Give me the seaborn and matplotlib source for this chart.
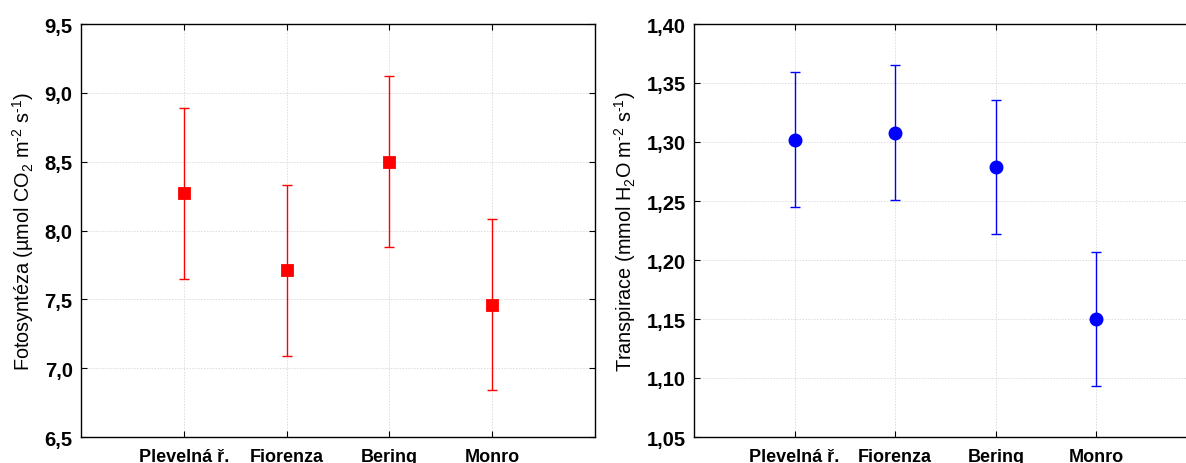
import numpy as np
import pandas as pd
import matplotlib
matplotlib.use("Agg")
import matplotlib.pyplot as plt
import seaborn as sns
from matplotlib.ticker import FuncFormatter, MultipleLocator

categories = ["Plevelná ř.", "Fiorenza", "Bering", "Monro"]
photo_mean = [8.27, 7.71, 8.50, 7.46]
photo_err = [0.62, 0.62, 0.62, 0.62]
transp_mean = [1.302, 1.308, 1.279, 1.150]
transp_err = [0.057, 0.057, 0.057, 0.057]

sns.set_theme(style="white")
plt.rcParams['font.family'] = ['Liberation Sans', 'DejaVu Sans']
plt.rcParams['mathtext.fontset'] = 'custom'
plt.rcParams['mathtext.rm'] = 'Liberation Sans'
plt.rcParams['mathtext.it'] = 'Liberation Sans'
plt.rcParams['mathtext.default'] = 'regular'
plt.rcParams['text.color'] = 'black'
plt.rcParams['axes.labelcolor'] = 'black'

W, H = 1186, 464
fig = plt.figure(figsize=(W / 100, H / 100), dpi=100)
ax1 = fig.add_axes([81 / W, 1 - 438 / H, (595 - 81) / W, (438 - 25) / H])
ax2 = fig.add_axes([694 / W, 1 - 438 / H, (1197 - 694) / W, (438 - 25) / H])

def panel(ax, means, errs, color, marker, msize, ylim, step, fmt, ylabel):
    df = pd.DataFrame({"cat": categories, "val": means})
    sns.pointplot(data=df, x="cat", y="val", ax=ax, linestyle="none",
                  marker=marker, color=color, errorbar=None,
                  markersize=msize, zorder=4)
    ax.errorbar(np.arange(len(categories)), means, yerr=errs, fmt="none",
                ecolor=color, elinewidth=1.0, capsize=3.6, capthick=1.0, zorder=3)
    ax.set_xlim(-1, 4)
    ax.set_ylim(*ylim)
    ax.yaxis.set_major_locator(MultipleLocator(step))
    ax.yaxis.set_major_formatter(FuncFormatter(lambda v, p: fmt.format(v).replace('.', ',')))
    ax.grid(True, color="#dcdcdc", linestyle=(0, (1.5, 1.5)), linewidth=0.7)
    ax.set_axisbelow(True)
    for s in ax.spines.values():
        s.set_visible(True)
        s.set_color("black")
        s.set_linewidth(1.0)
    ax.tick_params(axis="both", direction="in", length=4, width=0.8,
                   top=True, right=True, bottom=True, left=True, color="black",
                   labelcolor="black")
    ax.tick_params(axis="y", labelsize=14.5, pad=6)
    ax.tick_params(axis="x", labelsize=13, pad=8)
    for lab in ax.get_xticklabels() + ax.get_yticklabels():
        lab.set_fontweight("bold")
    ax.set_xlabel("")
    ax.set_ylabel(ylabel, fontsize=14.3, labelpad=6, color="black")

panel(ax1, photo_mean, photo_err, "#ff0000", "s", 7.5, (6.5, 9.5), 0.5, "{:.1f}",
      r"Fotosyntéza (µmol CO$_2$ m$^{\text{-}2}$ s$^{\text{-}1}$)")
panel(ax2, transp_mean, transp_err, "#0000ff", "o", 8, (1.05, 1.40), 0.05, "{:.2f}",
      r"Transpirace (mmol H$_2$O m$^{\text{-}2}$ s$^{\text{-}1}$)")
ax2.spines["right"].set_visible(False)
ax2.tick_params(axis="y", right=False)

fig.savefig("out.png", dpi=100)
